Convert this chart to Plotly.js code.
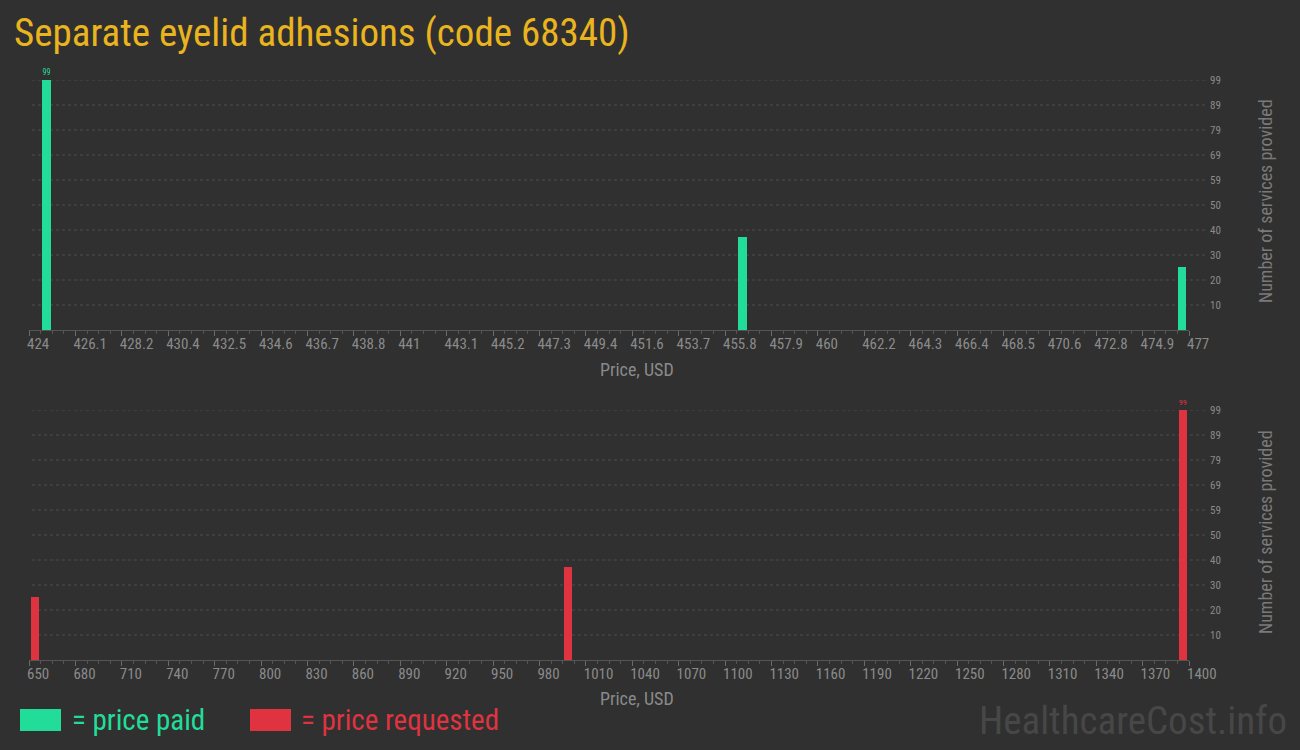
<!DOCTYPE html>
<html>
<head>
<meta charset="utf-8">
<script src="https://cdn.plot.ly/plotly-3.0.1.min.js"></script>
<style>
  html, body { margin: 0; padding: 0; background: #303030; }
  #chart { width: 1300px; height: 750px; }
</style>
</head>
<body>
<div id="chart"></div>
<script>
// Price distributions for procedure code 68340
const chartTitle = 'Separate eyelid adhesions (code 68340)';

const paidPrices = [424.8, 456.6, 476.7];
const paidCounts = [99, 37, 25];

const requestedPrices = [653.7, 998.5, 1396];
const requestedCounts = [25, 37, 99];

const paidTickVals = [424, 426.12, 428.24, 430.36, 432.48, 434.6, 436.72, 438.84, 440.96,
  443.08, 445.2, 447.32, 449.44, 451.56, 453.68, 455.8, 457.92, 460.04, 462.16, 464.28,
  466.4, 468.52, 470.64, 472.76, 474.88, 477];
const paidTickText = ['424', '426.1', '428.2', '430.4', '432.5', '434.6', '436.7', '438.8', '441',
  '443.1', '445.2', '447.3', '449.4', '451.6', '453.7', '455.8', '457.9', '460', '462.2', '464.3',
  '466.4', '468.5', '470.6', '472.8', '474.9', '477'];

const requestedTickVals = [650, 680, 710, 740, 770, 800, 830, 860, 890, 920, 950, 980, 1010,
  1040, 1070, 1100, 1130, 1160, 1190, 1220, 1250, 1280, 1310, 1340, 1370, 1400];
const requestedTickText = requestedTickVals.map(String);

const countTickVals = [9.9, 19.8, 29.7, 39.6, 49.5, 59.4, 69.3, 79.2, 89.1, 99];
const countTickText = ['10', '20', '30', '40', '50', '59', '69', '79', '89', '99'];

// ---- styling ----
const W = 1300, H = 750;
const FONT = '"Roboto Condensed", "Liberation Sans Narrow", "DejaVu Sans Condensed", Roboto, sans-serif';
const BG = '#303030';
const GREEN = '#22dd9a';
const RED = '#df3340';
const GOLD = '#e9b41d';
const MUTED = '#8a8a8a';
const GRID = '#4c4c4c';

const px = (x) => x / W;
const py = (y) => 1 - y / H;

const xDomain = [px(29), px(1189)];

function peakLabels(counts) {
  const top = Math.max(...counts);
  return counts.map(v => (v === top ? String(v) : ''));
}

const traces = [
  {
    type: 'bar', x: paidPrices, y: paidCounts, width: 0.37,
    xaxis: 'x', yaxis: 'y',
    marker: { color: GREEN, line: { width: 0 } },
    text: peakLabels(paidCounts), textposition: 'outside', cliponaxis: false,
    textfont: { family: FONT, size: 10, color: GREEN },
    hoverinfo: 'x+y', showlegend: false
  },
  {
    type: 'bar', x: requestedPrices, y: requestedCounts, width: 5.2,
    xaxis: 'x2', yaxis: 'y2',
    marker: { color: RED, line: { width: 0 } },
    text: peakLabels(requestedCounts), textposition: 'outside', cliponaxis: false,
    textfont: { family: FONT, size: 10, color: RED },
    hoverinfo: 'x+y', showlegend: false
  }
];

function xAxis(anchor, range, vals, text, minorStep) {
  return {
    domain: xDomain, anchor: anchor, range: range, fixedrange: true,
    tickmode: 'array', tickvals: vals, ticktext: text,
    ticks: 'outside', ticklen: 5, tickwidth: 1, tickcolor: '#6a6a6a',
    ticklabelposition: 'outside right', ticklabelshift: -3,
    tickfont: { family: FONT, size: 15, color: MUTED },
    minor: { tickmode: 'linear', tick0: range[0], dtick: minorStep, ticks: 'outside', ticklen: 3, tickcolor: '#555', showgrid: false },
    showgrid: false, zeroline: false, showline: true, linecolor: '#555', linewidth: 1
  };
}

function yAxis(anchor, domain) {
  return {
    domain: domain, anchor: anchor, range: [0, 99], fixedrange: true, side: 'right',
    tickmode: 'array', tickvals: countTickVals, ticktext: countTickText,
    ticks: '', ticklabelstandoff: 20,
    tickfont: { family: FONT, size: 11, color: MUTED },
    showgrid: false, zeroline: false, showline: false
  };
}

// dashed grid lines that run past the plot edge towards the count labels
const shapes = [];
[['y', countTickVals], ['y2', countTickVals]].forEach(([ref, vals]) => {
  vals.forEach(v => shapes.push({
    type: 'line', layer: 'below', xref: 'paper', yref: ref,
    x0: px(32), x1: px(1205), y0: v, y1: v,
    line: { color: GRID, width: 1, dash: '3px,3px' }
  }));
});

// legend swatches
shapes.push({ type: 'rect', xref: 'paper', yref: 'paper', x0: px(20), x1: px(61), y0: py(731), y1: py(709), fillcolor: GREEN, line: { width: 0 } });
shapes.push({ type: 'rect', xref: 'paper', yref: 'paper', x0: px(250), x1: px(291), y0: py(731), y1: py(709), fillcolor: RED, line: { width: 0 } });

function note(text, x, y, size, color, xanchor, extra) {
  return Object.assign({
    text: text, x: px(x), y: py(y), xref: 'paper', yref: 'paper',
    xanchor: xanchor, yanchor: 'middle', showarrow: false,
    font: { family: FONT, size: size, color: color }
  }, extra || {});
}

const annotations = [
  note('Price, USD', 637, 369, 18, MUTED, 'center'),
  note('Price, USD', 637, 698, 18, MUTED, 'center'),
  note('Number of services provided', 1265, 201, 18, '#7a7a7a', 'center', { textangle: -90 }),
  note('Number of services provided', 1265, 532, 18, '#7a7a7a', 'center', { textangle: -90 }),
  note('= price paid', 70, 720, 29, GREEN, 'left'),
  note('= price requested', 299, 720, 29, RED, 'left'),
  note('HealthcareCost.info', 1289, 721, 39, '#474747', 'right')
];

const layout = {
  width: W, height: H,
  margin: { l: 0, r: 0, t: 0, b: 0 },
  paper_bgcolor: BG, plot_bgcolor: BG,
  title: { text: chartTitle, x: px(14), xanchor: 'left', y: py(32), yanchor: 'middle',
    font: { family: FONT, size: 39, color: GOLD } },
  xaxis: xAxis('y', [424, 477], paidTickVals, paidTickText, 0.53),
  yaxis: yAxis('x', [py(330), py(80)]),
  xaxis2: xAxis('y2', [650, 1400], requestedTickVals, requestedTickText, 7.5),
  yaxis2: yAxis('x2', [py(660), py(410)]),
  bargap: 0,
  shapes: shapes,
  annotations: annotations,
  showlegend: false
};

Plotly.newPlot('chart', traces, layout, { staticPlot: true, displayModeBar: false });
</script>
</body>
</html>
